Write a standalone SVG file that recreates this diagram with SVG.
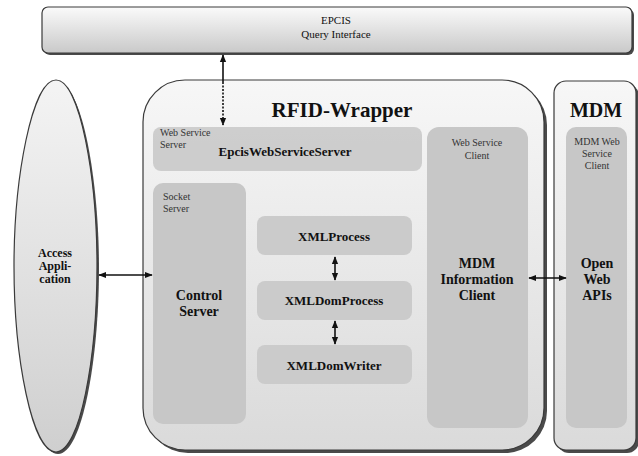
<svg xmlns="http://www.w3.org/2000/svg" width="638" height="456" viewBox="0 0 638 456" font-family="'Liberation Serif', 'DejaVu Serif', serif">
<style>
text{font-family:'Liberation Serif','DejaVu Serif',serif;fill:#111;text-anchor:middle}
.b{font-weight:bold}
.sm{font-size:10px;fill:#333}
.lbl{font-size:14px;font-weight:bold}
.inner{fill:#c7c7c7}
.xml{fill:#cbcbcb}
.shadow{fill:#4a4a4a}
.outline{stroke:#3a3a3a;stroke-width:1.2}
.conn{stroke:#111;stroke-width:1.6;fill:none}
</style>
<defs>
<linearGradient id="gBar" x1="0" y1="0" x2="0" y2="1">
<stop offset="0" stop-color="#fafafa"/><stop offset="1" stop-color="#c9c9c9"/>
</linearGradient>
<linearGradient id="gBox" x1="0" y1="0" x2="0" y2="1">
<stop offset="0" stop-color="#f7f7f7"/><stop offset="1" stop-color="#dadada"/>
</linearGradient>
<linearGradient id="gEll" x1="0" y1="0" x2="0" y2="1">
<stop offset="0" stop-color="#f4f4f4"/><stop offset="1" stop-color="#cfcfcf"/>
</linearGradient>
<marker id="ah" viewBox="0 0 10 10" refX="9" refY="5" markerWidth="5" markerHeight="5" orient="auto-start-reverse">
<path d="M0,1 L10,5 L0,9 Z" fill="#111"/>
</marker>
</defs>

<g id="epcis">
<rect x="44" y="9" width="590" height="46" rx="6" class="shadow"/>
<rect x="42" y="7" width="590" height="46" rx="6" fill="url(#gBar)" class="outline"/>
<text x="336" y="24" style="font-size:11px">EPCIS</text>
<text x="336" y="38" style="font-size:11px">Query Interface</text>
</g>

<g id="access-application">
<path d="M58,83 C82,83 99,180 99,268 C99,360 82,454 58,454 C34,454 16,360 16,268 C16,180 34,83 58,83 Z" class="shadow"/>
<path d="M56,80 C80,80 97,178 97,266 C97,358 80,452 56,452 C32,452 14,358 14,266 C14,178 32,80 56,80 Z" fill="url(#gEll)" class="outline"/>
<text x="55" y="257" class="b" style="font-size:12px">Access</text>
<text x="55" y="270" class="b" style="font-size:12px">Appli-</text>
<text x="55" y="283" class="b" style="font-size:12px">cation</text>
</g>

<g id="rfid-wrapper">
<rect x="146" y="83" width="401" height="370" rx="42" class="shadow"/>
<rect x="143" y="80" width="401" height="370" rx="42" fill="url(#gBox)" class="outline"/>
<text x="342" y="117" class="b" style="font-size:21px">RFID-Wrapper</text>
</g>

<g id="epcis-web-service-server">
<rect x="153" y="127" width="269" height="44" rx="8" class="inner" fill-opacity="0.85"/>
<text x="160" y="136" class="sm" style="text-anchor:start">Web Service</text>
<text x="160" y="148" class="sm" style="text-anchor:start">Server</text>
<text x="285" y="156" class="b" style="font-size:13px">EpcisWebServiceServer</text>
</g>

<g id="control-server">
<rect x="153" y="183" width="93" height="241" rx="10" class="inner"/>
<text x="163" y="200" class="sm" style="text-anchor:start">Socket</text>
<text x="163" y="212" class="sm" style="text-anchor:start">Server</text>
<text x="199" y="300" class="lbl">Control</text>
<text x="199" y="316" class="lbl">Server</text>
</g>

<g id="xmlprocess">
<rect x="257" y="216" width="155" height="39" rx="8" class="xml"/>
<text x="334" y="241" class="b" style="font-size:13px">XMLProcess</text>
</g>

<g id="xmldomprocess">
<rect x="257" y="281" width="155" height="39" rx="8" class="xml"/>
<text x="334" y="305" class="b" style="font-size:13px">XMLDomProcess</text>
</g>

<g id="xmldomwriter">
<rect x="257" y="345" width="155" height="39" rx="8" class="xml"/>
<text x="334" y="370" class="b" style="font-size:13px">XMLDomWriter</text>
</g>

<g id="mdm-information-client">
<rect x="427" y="127" width="101" height="301" rx="12" class="inner"/>
<text x="477" y="146" class="sm">Web Service</text>
<text x="477" y="159" class="sm">Client</text>
<text x="477" y="268" class="lbl">MDM</text>
<text x="477" y="284" class="lbl">Information</text>
<text x="477" y="300" class="lbl">Client</text>
</g>

<g id="mdm">
<rect x="557" y="84" width="82" height="369" rx="12" class="shadow"/>
<rect x="554" y="81" width="82" height="369" rx="12" fill="url(#gBox)" class="outline"/>
<text x="596" y="117" class="b" style="font-size:20px">MDM</text>
</g>

<g id="open-web-apis">
<rect x="566" y="127" width="61" height="301" rx="10" class="inner"/>
<text x="597" y="145" class="sm">MDM Web</text>
<text x="597" y="157" class="sm">Service</text>
<text x="597" y="169" class="sm">Client</text>
<text x="597" y="268" class="lbl">Open</text>
<text x="597" y="284" class="lbl">Web</text>
<text x="597" y="300" class="lbl">APIs</text>
</g>

<g id="connectors">
<line x1="223" y1="55" x2="223" y2="82" class="conn" marker-start="url(#ah)"/>
<line x1="223" y1="82" x2="223" y2="125" class="conn" stroke-dasharray="2,1.5" marker-end="url(#ah)"/>
<line x1="99" y1="275" x2="152" y2="275" class="conn" marker-start="url(#ah)" marker-end="url(#ah)"/>
<line x1="335" y1="257" x2="335" y2="280" class="conn" marker-start="url(#ah)" marker-end="url(#ah)"/>
<line x1="335" y1="321" x2="335" y2="344" class="conn" marker-start="url(#ah)" marker-end="url(#ah)"/>
<line x1="529" y1="278" x2="566" y2="278" class="conn" marker-start="url(#ah)" marker-end="url(#ah)"/>
</g>
</svg>
